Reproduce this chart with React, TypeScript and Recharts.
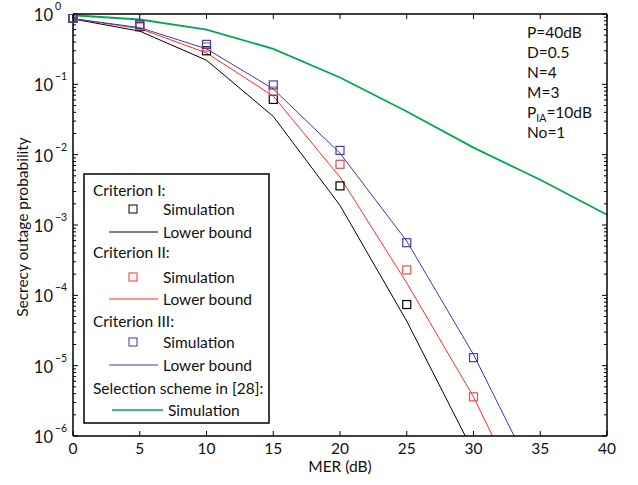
import { ComposedChart, Line, XAxis, YAxis } from 'recharts'

const mer = [0, 5, 10, 15, 20, 25, 30, 35, 40]
const xTicks = [0, 5, 10, 15, 20, 25, 30, 35, 40]
const decades = [1e-6, 1e-5, 1e-4, 1e-3, 1e-2, 1e-1, 1]
const minorSteps = [2, 3, 4, 5, 6, 7, 8, 9]

const critISim = [0.87, 0.66, 0.3, 0.061, 0.0036, 7.4e-5, null, null, null]
const critIBound = [0.85, 0.57, 0.22, 0.035, 0.0019, 4.3e-5, 5.9e-7, null, null]
const critIISim = [0.87, 0.68, 0.34, 0.08, 0.0073, 2.3e-4, 3.6e-6, null, null]
const critIIBound = [0.86, 0.62, 0.28, 0.068, 0.0048, 1.5e-4, 3.6e-6, 4e-8, null]
const critIIISim = [0.87, 0.71, 0.37, 0.098, 0.0115, 5.6e-4, 1.3e-5, null, null]
const critIIIBound = [0.86, 0.64, 0.32, 0.086, 0.0105, 5.9e-4, 1.44e-5, 1.8e-7, null]
const selectionSim = [0.96, 0.835, 0.6, 0.32, 0.125, 0.041, 0.0126, 0.0044, 0.0014]

const params = ['P=40dB', 'D=0.5', 'N=4', 'M=3', 'PIA=10dB', 'No=1']

const data = mer.map((m, i) => ({
  mer: m,
  s1: critISim[i],
  b1: critIBound[i],
  s2: critIISim[i],
  b2: critIIBound[i],
  s3: critIIISim[i],
  b3: critIIIBound[i],
  sel: selectionSim[i],
}))

const yTicks = [
  ...decades,
  ...decades.slice(0, -1).flatMap((d) => minorSteps.map((m) => m * d)),
].sort((a, b) => a - b)

const FONT = 'Lato, "Noto Sans", sans-serif'
const FS = 15.5
const BLACK = '#000000'
const RED = '#ff2a2a'
const BLUE = '#3a3aa8'
const GREEN = '#00a84f'

const isDecade = (v: number) => Math.abs(Math.log10(v) - Math.round(Math.log10(v))) < 1e-6

function square(color: string) {
  return (props: any) => {
    const { cx, cy, index, value } = props
    if (value == null || cx == null || cy == null) return <g key={`n-${index}`} />
    return (
      <rect key={`sq-${index}`} x={cx - 4} y={cy - 4} width={8} height={8}
        fill="none" stroke={color} strokeWidth={1.2} />
    )
  }
}

const BottomTick = (props: any) => {
  const { x, y, payload } = props
  return (
    <g>
      <line x1={x} x2={x} y1={y} y2={y - 5} stroke={BLACK} strokeWidth={1} />
      <text x={x} y={y + 18} textAnchor="middle" fontSize={FS} fontFamily={FONT} fill="#111">
        {payload.value}
      </text>
    </g>
  )
}

const TopTick = (props: any) => {
  const { x, y } = props
  return <line x1={x} x2={x} y1={y} y2={y + 5} stroke={BLACK} strokeWidth={1} />
}

const LeftTick = (props: any) => {
  const { x, y, payload } = props
  const v = payload.value
  const major = isDecade(v)
  const exp = Math.round(Math.log10(v))
  return (
    <g>
      <line x1={x} x2={x + (major ? 5 : 3)} y1={y} y2={y} stroke={BLACK} strokeWidth={1} />
      {major && (
        <text y={y + 7} fontFamily={FONT} fill="#111">
          <tspan x={x - 20} textAnchor="end" fontSize={16.5}>10</tspan>
          <tspan x={x - 18} dy={-11} fontSize={10.5}>{exp < 0 ? `\u2212${-exp}` : exp}</tspan>
        </text>
      )}
    </g>
  )
}

const RightTick = (props: any) => {
  const { x, y, payload } = props
  const major = isDecade(payload.value)
  return <line x1={x} x2={x - (major ? 5 : 3)} y1={y} y2={y} stroke={BLACK} strokeWidth={1} />
}

const LegendBox = () => {
  const text = { fontFamily: FONT, fontSize: FS, fill: '#111', dominantBaseline: 'central' as const }
  return (
    <svg width={187} height={251} style={{ position: 'absolute', left: 83, top: 173 }}>
      <rect x={1} y={1} width={185} height={249} fill="#fff" stroke={BLACK} strokeWidth={1.5} />
      <text x={10} y={17} {...text}>Criterion I:</text>
      <rect x={46} y={32} width={8} height={8} fill="none" stroke={BLACK} strokeWidth={1} />
      <text x={80} y={36} {...text}>Simulation</text>
      <line x1={26} x2={75} y1={59} y2={59} stroke={BLACK} strokeWidth={1} />
      <text x={80} y={59} {...text}>Lower bound</text>

      <text x={10} y={79} {...text}>Criterion II:</text>
      <rect x={46} y={100} width={8} height={8} fill="none" stroke={RED} strokeWidth={1} />
      <text x={80} y={104} {...text}>Simulation</text>
      <line x1={26} x2={75} y1={126} y2={126} stroke={RED} strokeWidth={1} />
      <text x={80} y={126} {...text}>Lower bound</text>

      <text x={10} y={148} {...text}>Criterion III:</text>
      <rect x={46} y={165} width={8} height={8} fill="none" stroke={BLUE} strokeWidth={1} />
      <text x={80} y={169} {...text}>Simulation</text>
      <line x1={26} x2={75} y1={192} y2={192} stroke={BLUE} strokeWidth={1} />
      <text x={80} y={192} {...text}>Lower bound</text>

      <text x={10} y={215} {...text}>Selection scheme in [28]:</text>
      <line x1={29} x2={80} y1={237} y2={237} stroke={GREEN} strokeWidth={1.5} />
      <text x={85} y={237} {...text}>Simulation</text>
    </svg>
  )
}

export default function App() {
  return (
    <div style={{ position: 'absolute', left: 0, top: 0, width: 638, height: 485, background: '#fff' }}>
      <ComposedChart width={638} height={485} data={data} margin={{ top: 0, right: 0, bottom: 0, left: 0 }}>
        <XAxis xAxisId="b" dataKey="mer" type="number" domain={[0, 40]} ticks={xTicks} interval={0}
          height={49} tickSize={0} tickMargin={0} tickLine={false} axisLine={{ stroke: BLACK, strokeWidth: 1.5 }}
          tick={<BottomTick />} />
        <XAxis xAxisId="t" dataKey="mer" type="number" orientation="top" domain={[0, 40]} ticks={xTicks}
          interval={0} height={14} tickSize={0} tickMargin={0} tickLine={false}
          axisLine={{ stroke: BLACK, strokeWidth: 1.5 }} tick={<TopTick />} />
        <YAxis yAxisId="l" type="number" scale="log" domain={[1e-6, 1]} allowDataOverflow ticks={yTicks}
          interval={0} width={73} tickSize={0} tickMargin={0} tickLine={false}
          axisLine={{ stroke: BLACK, strokeWidth: 1.5 }} tick={<LeftTick />} />
        <YAxis yAxisId="r" type="number" scale="log" orientation="right" domain={[1e-6, 1]} allowDataOverflow
          ticks={yTicks} interval={0} width={31} tickSize={0} tickMargin={0} tickLine={false}
          axisLine={{ stroke: BLACK, strokeWidth: 1.5 }} tick={<RightTick />} />

        <Line xAxisId="b" yAxisId="l" dataKey="b1" stroke={BLACK} strokeWidth={1} dot={false} isAnimationActive={false} />
        <Line xAxisId="b" yAxisId="l" dataKey="b2" stroke={RED} strokeWidth={1} dot={false} isAnimationActive={false} />
        <Line xAxisId="b" yAxisId="l" dataKey="b3" stroke={BLUE} strokeWidth={1} dot={false} isAnimationActive={false} />
        <Line xAxisId="b" yAxisId="l" dataKey="sel" stroke={GREEN} strokeWidth={1.8} dot={false} isAnimationActive={false} />
        <Line xAxisId="b" yAxisId="l" dataKey="s1" stroke="none" dot={square(BLACK)} activeDot={false} isAnimationActive={false} />
        <Line xAxisId="b" yAxisId="l" dataKey="s2" stroke="none" dot={square('#f04848')} activeDot={false} isAnimationActive={false} />
        <Line xAxisId="b" yAxisId="l" dataKey="s3" stroke="none" dot={square('#4040a8')} activeDot={false} isAnimationActive={false} />
      </ComposedChart>

      <div style={{ position: 'absolute', left: 0, top: 0, width: 638, height: 485, pointerEvents: 'none' }}>
        <svg width={638} height={485} style={{ position: 'absolute', left: 0, top: 0 }}>
          <text x={22} y={227} transform="rotate(-90 22 227)" textAnchor="middle" dominantBaseline="central"
            fontFamily={FONT} fontSize={FS} fill="#111">Secrecy outage probability</text>
          <text x={340} y={472} textAnchor="middle" fontFamily={FONT} fontSize={FS} fill="#111">MER (dB)</text>
          {params.map((p, i) => (
            <text key={p} x={527} y={38 + i * 20} fontFamily={FONT} fontSize={FS} fill="#111">
              {p === 'PIA=10dB' ? (
                <>
                  P<tspan fontSize={10.5} dy={4}>IA</tspan><tspan dy={-4}>=10dB</tspan>
                </>
              ) : p}
            </text>
          ))}
        </svg>
        <LegendBox />
      </div>
    </div>
  )
}
